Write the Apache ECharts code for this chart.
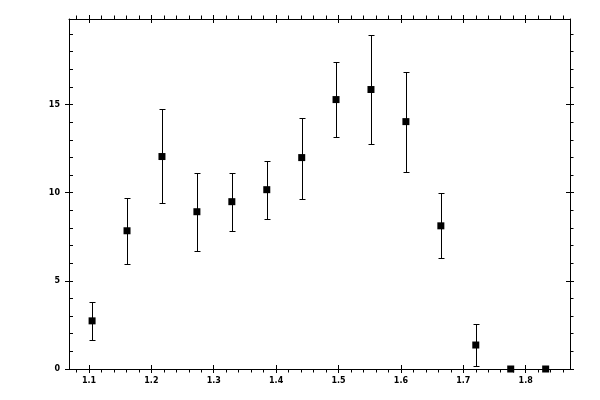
<!DOCTYPE html>
<html>
<head>
<meta charset="utf-8">
<script src="https://cdn.jsdelivr.net/npm/echarts@6/dist/echarts.min.js"></script>
<style>
  html, body { margin: 0; padding: 0; background: #fff; }
  #chart { width: 600px; height: 400px; }
</style>
</head>
<body>
<div id="chart"></div>
<script>
// data
var xValues = [1.105, 1.161, 1.217, 1.273, 1.329, 1.385, 1.441, 1.496, 1.552, 1.608, 1.664, 1.720, 1.776, 1.832];
var yValues = [2.73, 7.84, 12.05, 8.92, 9.49, 10.17, 11.99, 15.28, 15.85, 14.03, 8.12, 1.36, 0, 0];
var yLow    = [1.65, 5.97, 9.43, 6.70, 7.84, 8.52, 9.66, 13.18, 12.78, 11.19, 6.31, 0.17, 0, 0];
var yHigh   = [3.81, 9.69, 14.72, 11.12, 11.12, 11.82, 14.26, 17.39, 18.92, 16.82, 9.98, 2.56, 0, 0];

// ticks
var xMajor = [1.1, 1.2, 1.3, 1.4, 1.5, 1.6, 1.7, 1.8];
var xMinor = [1.08, 1.12, 1.14, 1.16, 1.18, 1.22, 1.24, 1.26, 1.28, 1.32, 1.34, 1.36, 1.38,
              1.42, 1.44, 1.46, 1.48, 1.52, 1.54, 1.56, 1.58, 1.62, 1.64, 1.66, 1.68,
              1.72, 1.74, 1.76, 1.78, 1.82, 1.84, 1.86];
var yMajor = [0, 5, 10, 15];
var yMinor = [1, 2, 3, 4, 6, 7, 8, 9, 11, 12, 13, 14, 16, 17, 18, 19];

var xMin = 1.068, xMax = 1.871;
var yMin = 0, yMax = 19.85;

var points = xValues.map(function (x, i) { return [x, yValues[i]]; });
var bars = xValues.map(function (x, i) { return [x, yLow[i], yHigh[i]]; });

// one axis = one layer of ticks (outer, inner, minor)
function axis(pos, vals, inside, len, showLine, showLabel) {
    var isX = pos === 'bottom' || pos === 'top';
    return {
        type: 'value',
        position: pos,
        min: isX ? xMin : yMin,
        max: isX ? xMax : yMax,
        axisLine: { show: showLine, onZero: false, lineStyle: { color: '#000', width: 1 } },
        axisTick: { show: true, inside: inside, length: len, customValues: vals,
                    lineStyle: { color: '#000', width: 1 } },
        axisLabel: { show: showLabel, customValues: vals, margin: isX ? 8 : 9,
                     fontFamily: 'DejaVu Sans', fontSize: 8, fontWeight: 'bold', color: '#000' },
        splitLine: { show: false }
    };
}

var xAxes = [
    axis('bottom', xMajor, false, 4, true, true),
    axis('bottom', xMajor, true, 4, false, false),
    axis('bottom', xMinor, false, 3.5, false, false),
    axis('top', xMajor, false, 4, true, false),
    axis('top', xMajor, true, 4, false, false),
    axis('top', xMinor, false, 3.5, false, false)
];
var yAxes = [
    axis('left', yMajor, false, 4, true, true),
    axis('left', yMajor, true, 4, false, false),
    axis('left', yMinor, true, 4, false, false),
    axis('right', yMajor, false, 4, true, false),
    axis('right', yMajor, true, 4, false, false),
    axis('right', yMinor, false, 3.5, false, false)
];

var chart = echarts.init(document.getElementById('chart'));
chart.setOption({
    animation: false,
    backgroundColor: '#fff',
    grid: { left: 69, right: 30, top: 19, bottom: 31, containLabel: false },
    xAxis: xAxes,
    yAxis: yAxes,
    series: [
        {
            // error bars
            type: 'custom',
            xAxisIndex: 0,
            yAxisIndex: 0,
            data: bars,
            renderItem: function (params, api) {
                var x = api.value(0);
                if (api.value(2) - api.value(1) <= 0) return null;
                var lo = api.coord([x, api.value(1)]);
                var hi = api.coord([x, api.value(2)]);
                var cx = Math.round(lo[0]) + 0.5;
                var ly = Math.round(lo[1]) + 0.5, hy = Math.round(hi[1]) + 0.5;
                var style = { stroke: '#000', lineWidth: 1 };
                return {
                    type: 'group',
                    children: [
                        { type: 'line', shape: { x1: cx, y1: ly, x2: cx, y2: hy }, style: style },
                        { type: 'line', shape: { x1: cx - 3, y1: ly, x2: cx + 3, y2: ly }, style: style },
                        { type: 'line', shape: { x1: cx - 3, y1: hy, x2: cx + 3, y2: hy }, style: style }
                    ]
                };
            },
            z: 2
        },
        {
            type: 'scatter',
            xAxisIndex: 0,
            yAxisIndex: 0,
            data: points,
            symbol: 'rect',
            symbolSize: 7,
            itemStyle: { color: '#000', opacity: 1 },
            z: 3
        }
    ]
});
</script>
</body>
</html>
